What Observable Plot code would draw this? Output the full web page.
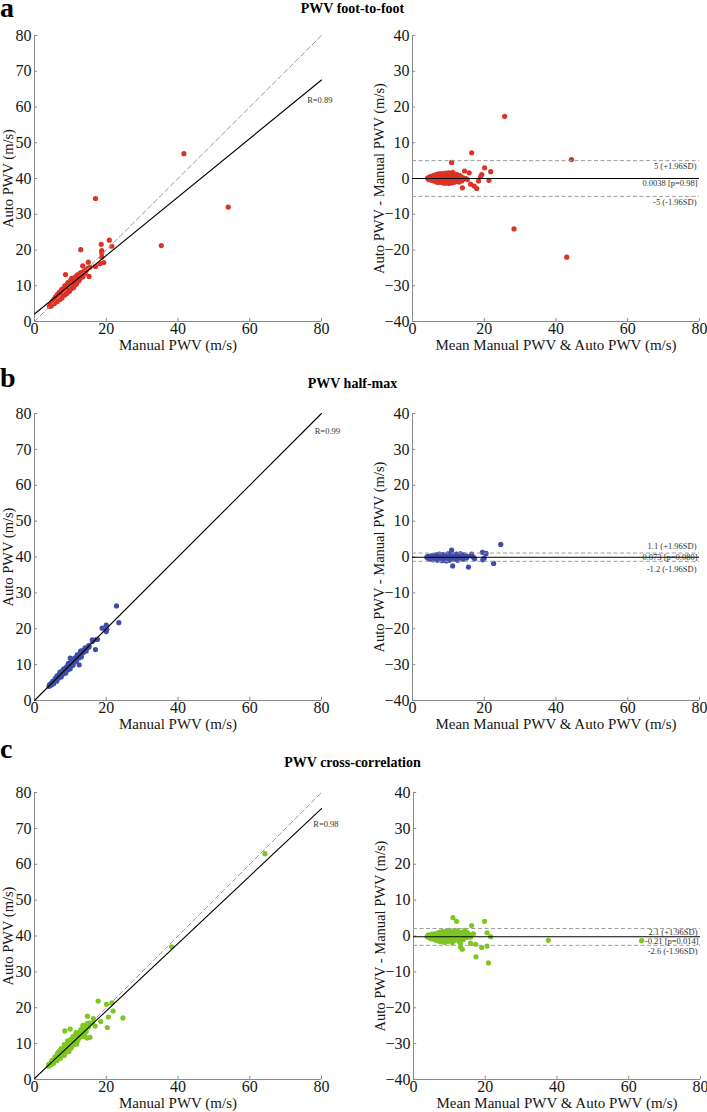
<!DOCTYPE html>
<html><head><meta charset="utf-8">
<script src="https://cdn.jsdelivr.net/npm/d3@7"></script>
<script src="https://cdn.jsdelivr.net/npm/@observablehq/plot@0.6"></script>
<style>
html,body{margin:0;padding:0;background:#fff;overflow:hidden;}
#root{position:relative;width:707px;height:1112px;font-family:"Liberation Serif","Times New Roman",serif;}
#root > svg{position:absolute;}
</style></head><body><div id="root"></div>
<script>
// ---------------- DATA ----------------
const methodTitles = ["PWV foot-to-foot", "PWV half-max", "PWV cross-correlation"];
const panelLetters = ["a", "b", "c"];
const methodColors = ["#db3326", "#3f4ca8", "#7dc623"];

// Bland-Altman coordinates: mean of (manual, auto) and difference (auto - manual)
const ftfMean = [4.2,4.5,4.7,4.9,5.1,5.3,5.5,5.6,5.8,5.9,6.1,6.2,6.4,6.5,6.6,6.8,6.9,7.0,7.1,7.2,7.4,7.5,7.6,7.7,7.8,7.9,8.0,8.1,8.2,8.3,8.4,8.5,8.6,8.7,8.8,8.9,9.0,9.1,9.2,9.3,9.4,9.5,9.6,9.7,9.8,9.9,10.0,10.1,10.2,10.3,10.4,10.5,10.6,10.7,10.8,10.9,11.0,11.1,11.2,11.3,11.4,11.5,11.6,11.7,11.8,11.9,12.0,12.1,12.2,12.4,12.5,12.6,12.8,12.9,13.0,13.2,13.4,13.6,13.8,14.1,14.4,
  25.7,44.3,43.0,28.3,16.5,10.9,20.1,21.8,14.5,15.8,19.3,19.0,21.3,18.4,13.9,16.2,17.2,17.9,14.9,15.3];
const ftfDiff = [0.1,-0.3,0.4,-0.1,0.6,-0.5,0.2,-0.2,0.8,-0.7,0.3,-0.4,1.0,0.0,-0.9,0.5,-0.3,1.2,-1.1,0.2,0.7,-0.6,1.3,-0.1,0.4,-1.0,0.9,-0.4,0.1,1.4,-1.2,0.6,-0.7,0.0,1.1,-0.3,0.5,-1.3,1.5,-0.8,0.2,0.9,-0.5,1.3,-1.1,0.3,-0.2,1.6,-1.4,0.7,-0.6,1.0,0.0,-1.0,1.4,-0.3,0.5,-1.2,1.7,-0.7,0.8,0.1,-0.4,1.2,-1.0,0.4,-0.2,0.9,-0.8,0.3,1.1,-0.5,0.6,-0.1,-1.0,0.8,-0.3,0.4,-0.6,0.2,-0.1,
  17.4,5.3,-22.0,-14.1,7.2,4.5,3.0,1.9,2.1,1.6,1.1,0.5,-0.5,-0.7,-2.6,-1.6,-2.1,-2.8,0.0,-0.3];

const hmMean = [4.0,4.3,4.5,4.8,5.0,5.2,5.4,5.6,5.8,6.0,6.1,6.3,6.5,6.6,6.8,7.0,7.1,7.3,7.5,7.6,7.8,7.9,8.1,8.2,8.4,8.5,8.7,8.8,9.0,9.1,9.3,9.4,9.6,9.7,9.9,10.0,10.2,10.3,10.5,10.6,10.8,10.9,11.1,11.3,11.5,11.7,11.9,12.1,12.3,12.5,12.8,13.0,13.3,13.5,13.8,14.1,14.4,14.8,15.2,
  24.6,10.9,20.5,19.5,19.6,22.6,15.6,11.2,16.3,17.1,13.4,12.6,20.0,16.5,17.3,15.05];
const hmDiff = [-0.1,0.2,-0.4,0.1,-0.6,0.3,-0.2,0.0,-0.8,0.4,-0.3,0.1,-0.5,0.6,-0.1,-0.9,0.3,-0.4,0.8,0.0,-0.7,0.5,-0.2,-1.0,0.2,0.7,-0.5,0.0,-0.8,0.4,-0.3,-1.1,0.6,-0.1,0.9,-0.6,0.2,-0.9,0.5,-0.2,1.0,-0.4,0.1,-0.7,0.6,-0.1,0.3,-0.5,0.8,0.0,-0.3,0.5,0.9,-0.2,0.3,-0.6,0.6,-0.1,0.2,
  3.5,1.9,1.0,1.3,-0.8,-1.8,-2.8,-2.5,0.3,-0.2,0.8,-0.9,-0.3,0.8,-0.5,-0.3];

const ccMean = [3.8,4.1,4.4,4.6,4.9,5.1,5.3,5.6,5.8,6.0,6.2,6.4,6.6,6.8,7.0,7.2,7.3,7.5,7.7,7.8,8.0,8.2,8.3,8.5,8.7,8.8,9.0,9.1,9.3,9.5,9.6,9.8,10.0,10.1,10.3,10.5,10.6,10.8,11.0,11.2,11.4,11.5,11.7,11.9,12.1,12.3,12.5,12.7,12.9,13.1,13.4,13.6,13.9,14.2,14.5,14.8,15.1,15.5,15.9,
  11.0,12.0,19.8,16.2,20.5,21.5,13.1,13.6,13.1,15.9,17.3,19.0,20.5,17.4,20.9,37.6,63.6,16.7,14.3];
const ccDiff = [-0.2,0.3,-0.5,0.1,-0.8,0.5,-0.3,0.0,-1.0,0.6,-0.4,0.2,-1.3,0.8,-0.1,-0.8,1.0,-1.6,0.3,-0.5,1.2,-1.2,0.0,0.6,-1.8,-0.3,1.4,-0.9,0.4,-1.5,0.9,-0.2,1.6,-1.1,0.2,-0.6,1.1,-1.9,0.5,-0.4,1.3,-1.2,0.1,0.8,-0.8,1.5,-0.2,-1.4,0.6,-0.6,1.0,0.0,-1.0,1.2,0.3,-0.4,0.9,0.4,-0.3,
  5.1,4.1,4.1,2.9,0.9,-0.2,-2.0,-3.7,-3.1,-2.0,-2.3,-3.2,-2.8,-5.8,-7.5,-1.2,-1.3,0.6,1.6];

const baMeans = [ftfMean, hmMean, ccMean];
const baDiffs = [ftfDiff, hmDiff, ccDiff];

// regression fits (Auto = intercept + slope * Manual) and correlation labels
const fitIntercept = [2.1, 0.0, 0.3];
const fitSlope = [0.818, 1.0, 0.94];
const rLabels = ["R=0.89", "R=0.99", "R=0.98"];
const rLabelX = [76.0, 78.1, 77.7];
const rLabelY = [61.8, 75.0, 71.2];

// Bland-Altman limits
const baBias = [0.0038, -0.073, -0.21];
const baUpper = [5, 1.1, 2.1];
const baLower = [-5, -1.2, -2.6];
const biasLabels = ["0.0038 [p=0.98]", "-0.073 [p=0.080]", "-0.21 [p=0.014]"];
const upperLabels = ["5 (+1.96SD)", "1.1 (+1.96SD)", "2.1 (+1.96SD)"];
const lowerLabels = ["-5 (-1.96SD)", "-1.2 (-1.96SD)", "-2.6 (-1.96SD)"];

// axes
const xDomain = [0, 80];
const yDomainLeft = [0, 80];
const yDomainRight = [-40, 40];
const xTicks = [0, 20, 40, 60, 80];
const yTicksLeft = [0, 10, 20, 30, 40, 50, 60, 70, 80];
const yTicksRight = [-40, -30, -20, -10, 0, 10, 20, 30, 40];
const xLabelLeft = "Manual PWV (m/s)";
const yLabelLeft = "Auto PWV (m/s)";
const xLabelRight = "Mean Manual PWV & Auto PWV (m/s)";
const yLabelRight = "Auto PWV - Manual PWV (m/s)";

// ---------------- LAYOUT ----------------
const root = document.getElementById("root");
const rowTop = [0, 378, 757];
const rowHeight = [370, 370, 355];
const rowMarginBottom = [49, 48, 33];
const labelDy = [[6, 5, 6], [-7, 0, 8], [4, 5, 6]]; // upper, bias, lower
const axisGrey = "#8a8a8a";
const dashGrey = "#9c9c9c";
const ink = "#161616";
const FONT = "'Liberation Serif','Times New Roman',serif";

function commonAxes(yDomain, yTicks) {
  const tl = 0.9;
  return [
    Plot.ruleY([yDomain[0]], {x1: xDomain[0], x2: xDomain[1], stroke: axisGrey, strokeWidth: 1}),
    Plot.ruleX([xDomain[0]], {y1: yDomain[0], y2: yDomain[1], stroke: axisGrey, strokeWidth: 1}),
    Plot.ruleX(xTicks, {x: d => d, y1: yDomain[0], y2: yDomain[0] + tl, stroke: axisGrey}),
    Plot.ruleY(yTicks, {y: d => d, x1: xDomain[0], x2: xDomain[0] + tl, stroke: axisGrey}),
    Plot.axisX(xTicks, {tickSize: 0, tickPadding: 1, label: null, fontSize: 16, fill: ink}),
    Plot.axisY(yTicks, {tickSize: 0, tickPadding: 3, label: null, fontSize: 16, fill: ink})
  ];
}

function place(svg, left, top) {
  svg.style.position = "absolute";
  svg.style.left = left + "px";
  svg.style.top = top + "px";
  root.appendChild(svg);
}

for (let i = 0; i < 3; i++) {
  const pts = baMeans[i].map((m, j) => {
    const d = baDiffs[i][j];
    return {mean: m, diff: d, manual: m - d / 2, auto: m + d / 2};
  });
  const color = methodColors[i];
  const b0 = fitIntercept[i], b1 = fitSlope[i];
  const fitLine = xDomain.map(x => ({x, y: b0 + b1 * x}));
  const identity = xDomain.map(x => ({x, y: x}));

  const left = Plot.plot({
    width: 345, height: rowHeight[i],
    marginLeft: 34, marginRight: 24, marginTop: 35, marginBottom: rowMarginBottom[i],
    x: {domain: xDomain}, y: {domain: yDomainLeft},
    style: {fontFamily: FONT, fontSize: "15px", background: "transparent", overflow: "visible", color: ink},
    marks: [
      ...commonAxes(yDomainLeft, yTicksLeft),
      Plot.dot(pts, {x: "manual", y: "auto", r: 2.6, fill: color, stroke: null}),
      Plot.line(identity, {x: "x", y: "y", stroke: dashGrey, strokeWidth: 1, strokeDasharray: "5,3"}),
      Plot.line(fitLine, {x: "x", y: "y", stroke: "#000", strokeWidth: 1.1}),
      Plot.text([rLabels[i]], {x: rLabelX[i], y: rLabelY[i], text: d => d, textAnchor: "start", fontSize: 8.5, fill: "#333"}),
      Plot.text([xLabelLeft], {frameAnchor: "bottom", dy: 24, text: d => d, fontSize: 15, fill: ink, textAnchor: "middle", lineAnchor: "middle"}),
      Plot.text([yLabelLeft], {frameAnchor: "left", dx: -26, rotate: -90, text: d => d, fontSize: 14.5, fill: ink, textAnchor: "middle", lineAnchor: "middle"})
    ]
  });
  place(left, 0, rowTop[i]);

  const dy = labelDy[i];
  const right = Plot.plot({
    width: 357, height: rowHeight[i],
    marginLeft: 62, marginRight: 8, marginTop: 35, marginBottom: rowMarginBottom[i],
    x: {domain: xDomain}, y: {domain: yDomainRight},
    style: {fontFamily: FONT, fontSize: "15px", background: "transparent", overflow: "visible", color: ink},
    marks: [
      ...commonAxes(yDomainRight, yTicksRight),
      Plot.dot(pts, {x: "mean", y: "diff", r: 2.6, fill: color, stroke: null}),
      Plot.ruleY([baUpper[i], baLower[i]], {y: d => d, x1: xDomain[0], x2: xDomain[1], stroke: dashGrey, strokeWidth: 1, strokeDasharray: "4,2.5"}),
      Plot.ruleY([baBias[i]], {y: d => d, x1: xDomain[0], x2: xDomain[1], stroke: "#000", strokeWidth: 1.1}),
      Plot.text([upperLabels[i]], {x: xDomain[1], y: baUpper[i], text: d => d, textAnchor: "end", dx: -3, dy: dy[0], fontSize: 8.5, fill: "#333"}),
      Plot.text([biasLabels[i]], {x: xDomain[1], y: baBias[i], text: d => d, textAnchor: "end", dx: -2, dy: dy[1], fontSize: 8.5, fill: "#333"}),
      Plot.text([lowerLabels[i]], {x: xDomain[1], y: baLower[i], text: d => d, textAnchor: "end", dx: -3, dy: dy[2], fontSize: 8.5, fill: "#333"}),
      Plot.text([xLabelRight], {frameAnchor: "bottom", dy: 24, text: d => d, fontSize: 15, fill: ink, textAnchor: "middle", lineAnchor: "middle"}),
      Plot.text([yLabelRight], {frameAnchor: "left", dx: -33.5, rotate: -90, text: d => d, fontSize: 14.5, fill: ink, textAnchor: "middle", lineAnchor: "middle"})
    ]
  });
  place(right, i === 2 ? 351 : 350, rowTop[i]);
}

// titles and panel letters
const titleBaseline = [13.3, 387.5, 766.5];
const letterBaseline = [17, 387, 758];
const overlay = d3.create("svg").attr("width", 707).attr("height", 1112)
  .style("position", "absolute").style("left", "0px").style("top", "0px")
  .style("pointer-events", "none");
overlay.selectAll("text.title").data(methodTitles).join("text")
  .attr("class", "title").attr("x", 352.5).attr("y", (d, i) => titleBaseline[i])
  .attr("text-anchor", "middle").attr("font-family", FONT).attr("font-weight", "bold")
  .attr("font-size", 14).attr("fill", "#000").text(d => d);
overlay.selectAll("text.letter").data(panelLetters).join("text")
  .attr("class", "letter").attr("x", 0).attr("y", (d, i) => letterBaseline[i])
  .attr("font-family", FONT).attr("font-weight", "bold")
  .attr("font-size", 28).attr("fill", "#000").text(d => d);
root.appendChild(overlay.node());
</script>
</body></html>
